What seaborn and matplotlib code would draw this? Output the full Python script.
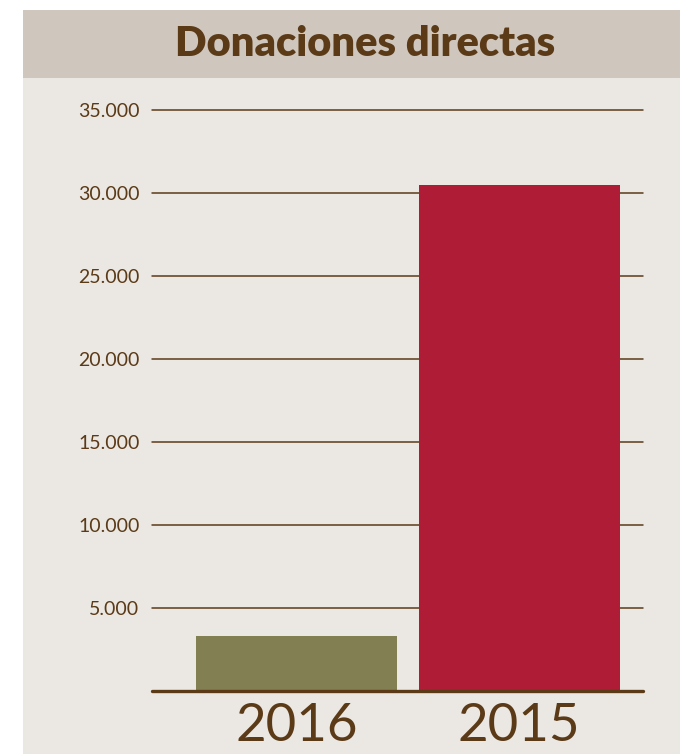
import numpy as np
import pandas as pd
import seaborn as sns
import matplotlib.pyplot as plt
from matplotlib.patches import Rectangle
from matplotlib.ticker import FuncFormatter

# Data
years = ['2016', '2015']
donations = [3300, 30500]
bar_colors = ['#827f53', '#ae1c36']
y_ticks = [5000, 10000, 15000, 20000, 25000, 30000, 35000]

brown = '#5b3a17'
panel_bg = '#ebe7e2'
title_bg = '#cfc6bd'

sns.set_style('white')
plt.rcParams['font.family'] = ['Lato', 'DejaVu Sans']

df = pd.DataFrame({'year': years, 'value': donations})

fig = plt.figure(figsize=(6.9, 7.54), dpi=100)
fig.patch.set_facecolor('white')

# background panel and title band (behind the axes)
fig.patches.append(Rectangle((0.0333, 0), 0.9522, 0.8966, transform=fig.transFigure,
                             facecolor=panel_bg, edgecolor='none', zorder=-2))
fig.patches.append(Rectangle((0.0333, 0.8966), 0.9522, 0.0901, transform=fig.transFigure,
                             facecolor=title_bg, edgecolor='none', zorder=-2))
fig.text(0.529, 0.941, 'Donaciones directas', ha='center', va='center',
         fontsize=30, fontweight='heavy', color=brown)

ax = fig.add_axes([0.2203, 0.0836, 0.7116, 0.7706])
ax.set_facecolor('none')

sns.barplot(data=df, x='year', y='value', hue='year', palette=bar_colors,
            order=years, width=0.903, saturation=1, linewidth=0,
            legend=False, ax=ax, zorder=3)

for t in y_ticks:
    ax.axhline(t, color=brown, linewidth=1.1, zorder=1, clip_on=False)
ax.axhline(0, color=brown, linewidth=2.4, zorder=4, clip_on=False)

ax.set_ylim(0, 35000)
ax.set_xlim(-0.65, 1.557)
ax.set_yticks(y_ticks)
ax.yaxis.set_major_formatter(FuncFormatter(lambda v, p: f'{int(v):,}'.replace(',', '.')))
ax.tick_params(axis='y', length=0, pad=9, labelsize=14, labelcolor=brown)
ax.tick_params(axis='x', length=0, pad=9, labelsize=38, labelcolor=brown)
ax.set_xlabel('')
ax.set_ylabel('')
sns.despine(ax=ax, left=True, bottom=True)

fig.savefig('out.png', dpi=100, facecolor=fig.get_facecolor())
